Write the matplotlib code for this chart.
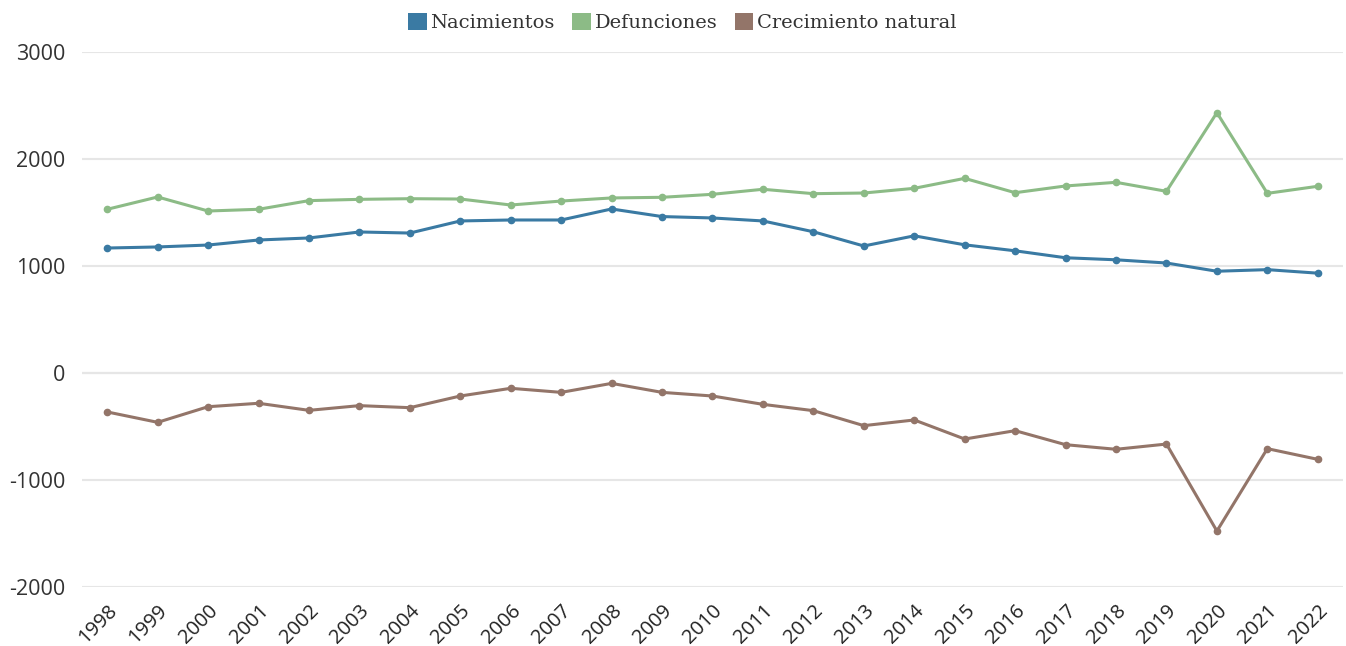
import matplotlib
matplotlib.use('Agg')
import matplotlib.pyplot as plt
from matplotlib.patches import Patch

plt.rcParams['axes.unicode_minus'] = False

years = list(range(1998, 2023))
nacimientos = [1168, 1178, 1196, 1243, 1262, 1318, 1308, 1421, 1430, 1430, 1533, 1462, 1449,
               1421, 1320, 1187, 1282, 1198, 1142, 1077, 1058, 1028, 951, 966, 933]
defunciones = [1530, 1645, 1514, 1530, 1611, 1623, 1629, 1626, 1570, 1607, 1636, 1642, 1670,
               1717, 1676, 1682, 1726, 1819, 1685, 1748, 1782, 1698, 2433, 1679, 1745]
crecimiento = [-364, -461, -315, -283, -349, -305, -324, -215, -143, -181, -97, -181, -215,
               -293, -352, -492, -439, -617, -539, -670, -713, -664, -1477, -707, -807]

series = [
    ('Nacimientos', nacimientos, '#3a7aa3'),
    ('Defunciones', defunciones, '#8cbb86'),
    ('Crecimiento natural', crecimiento, '#937569'),
]

fig = plt.figure(figsize=(13.46, 6.46), dpi=100)
ax = fig.add_axes([82 / 1346, 1 - 587 / 646, (1343 - 82) / 1346, (587 - 52) / 646])

for name, vals, col in series:
    ax.plot(years, vals, color=col, lw=2.2, marker='o', ms=4.5, zorder=3)

ax.set_ylim(-2000, 3000)
ax.set_xlim(1997.5, 2022.5)
ax.set_yticks([-2000, -1000, 0, 1000, 2000, 3000])
ax.set_xticks(years)
ax.set_xticklabels([str(y) for y in years], rotation=45, ha='right',
                   rotation_mode='anchor', fontsize=14.5, color='#222222',
                   family='Open Sans')
for lbl in ax.get_yticklabels():
    lbl.set_fontsize(15.5)
    lbl.set_color('#333333')
    lbl.set_family('Open Sans')

ax.grid(axis='y', color='#e6e6e6', lw=1.5, zorder=0)
ax.axhline(0, color='#c8c8c8', lw=1.5, zorder=1)
for s in ax.spines.values():
    s.set_visible(False)
ax.tick_params(axis='both', length=0)
ax.tick_params(axis='y', pad=12)
ax.tick_params(axis='x', pad=10)

handles = [Patch(facecolor=col, edgecolor='none', label=name) for name, _, col in series]
fig.legend(handles=handles, loc='upper center', bbox_to_anchor=(0.507, 1.007), ncol=3,
           frameon=False, prop={'family': 'DejaVu Serif', 'size': 14},
           handlelength=0.95, handleheight=0.95, handletextpad=0.2, columnspacing=0.9,
           labelcolor='#333333')

fig.savefig('out.png', dpi=100, facecolor='white')
